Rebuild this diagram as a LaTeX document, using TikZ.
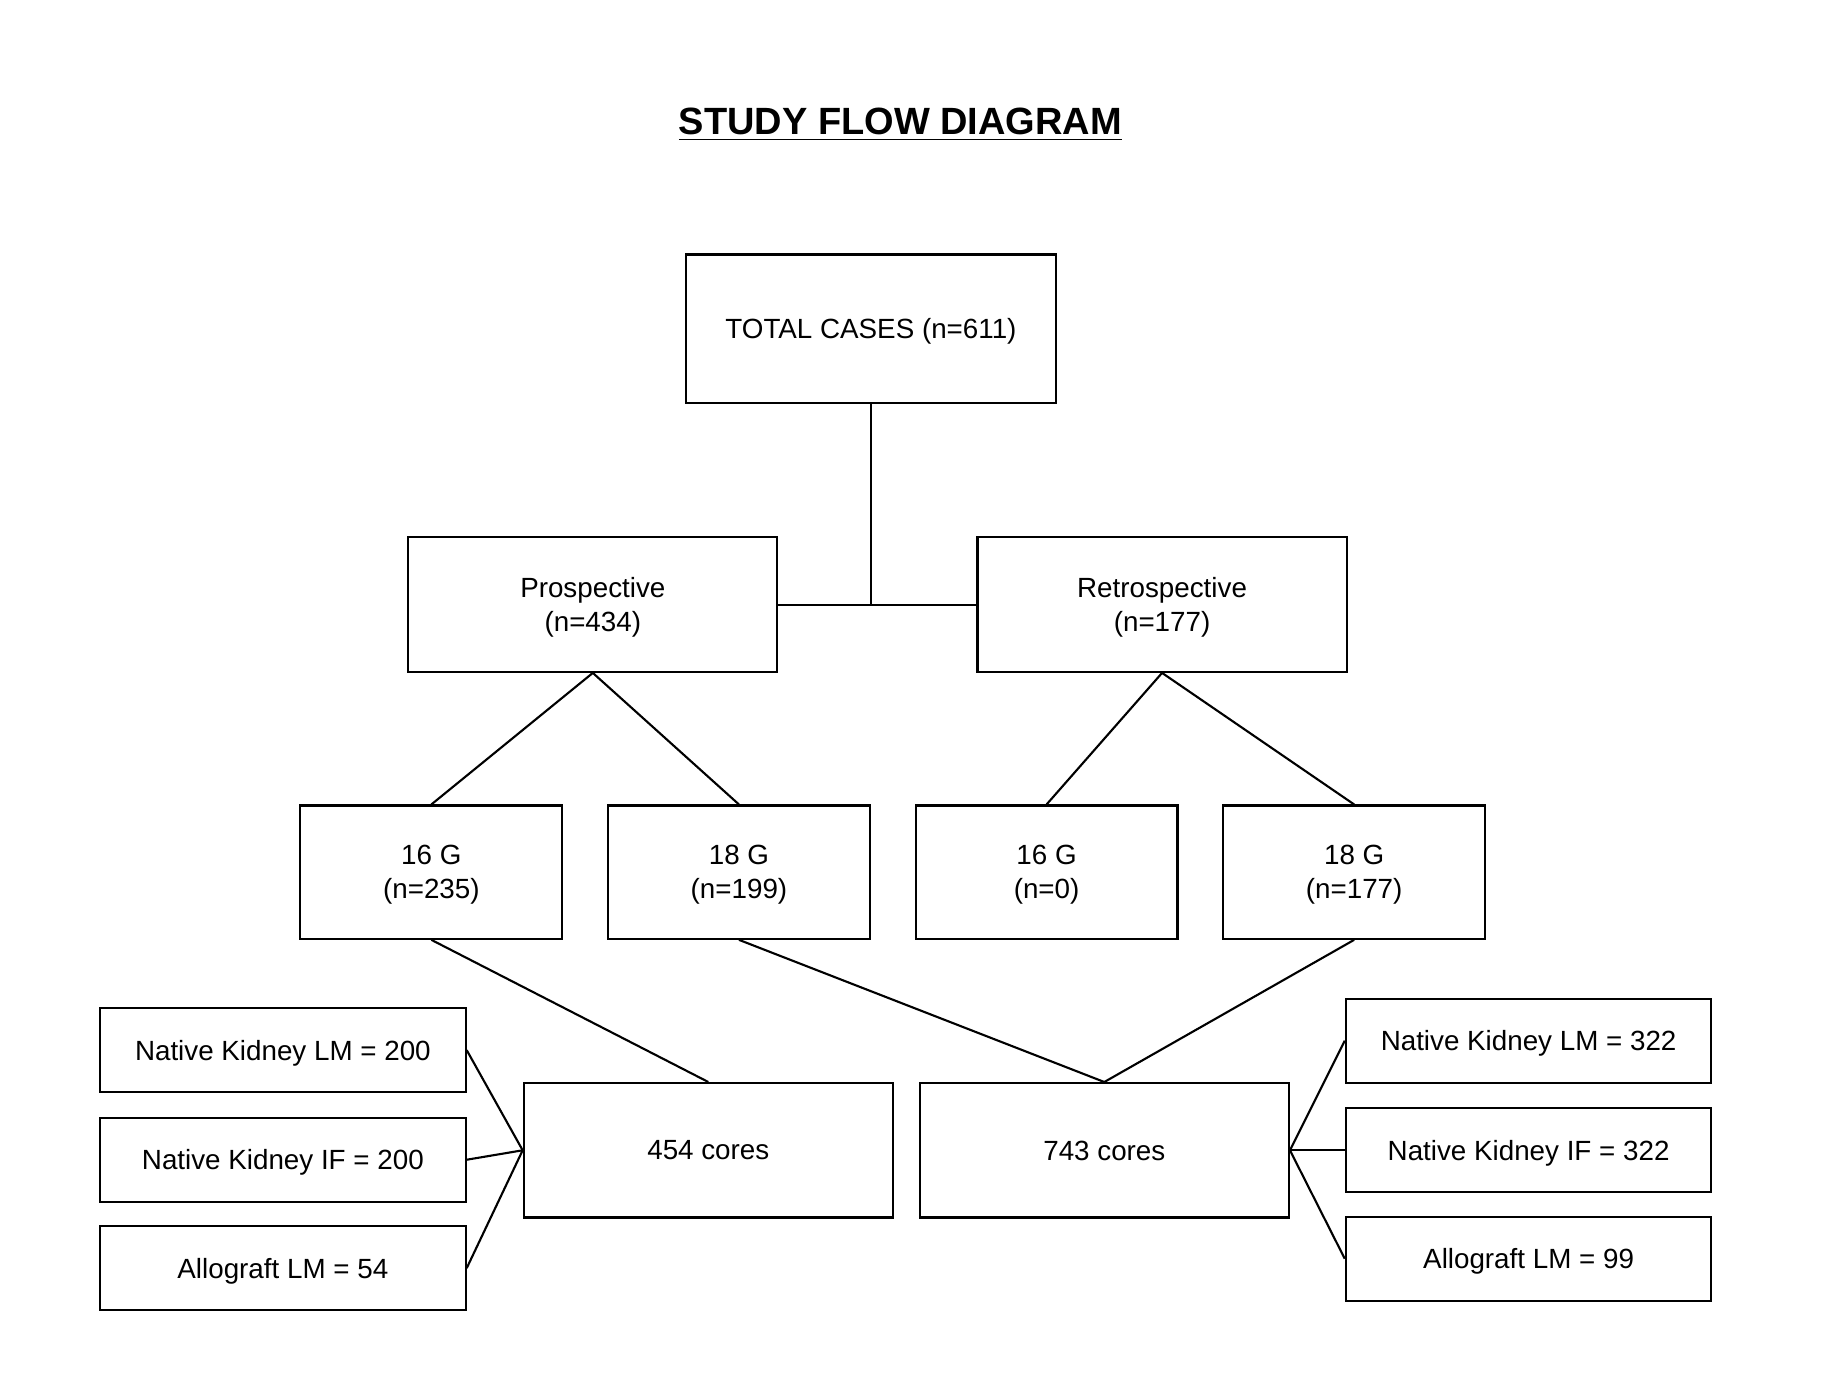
\documentclass[tikz,border=0pt]{standalone}
\usepackage{fontspec}
\setmainfont{Liberation Sans}

\begin{document}
\begin{tikzpicture}[x=0.011786cm, y=-0.011786cm, line width=0.6pt,
    box/.style={draw, align=center, inner sep=0pt, text depth=0pt,
        font=\fontsize{7.9}{9.7}\selectfont},
    widebox/.style={box, minimum width=3.69cm, minimum height=1.344cm},
    gaugebox/.style={box, minimum width=2.617cm, minimum height=1.332cm},
    sidebox/.style={box, minimum width=3.654cm, minimum height=0.837cm}]

    \useasboundingbox (0,0) rectangle (1568,1169);

    % Title
    \node[anchor=base, font=\fontsize{10.8}{13}\selectfont\bfseries] (title)
        at (764,114) {\underline{STUDY FLOW DIAGRAM}};

    % Total
    \node[widebox, minimum height=1.485cm] (total) at (739,279) {TOTAL CASES (n=611)};

    % Study arms
    \node[widebox] (pros) at (503,513) {Prospective\\(n=434)};
    \node[widebox] (retro) at (986,513) {Retrospective\\(n=177)};

    % Needle gauges
    \node[gaugebox] (pros16) at (366,740) {16 G\\(n=235)};
    \node[gaugebox] (pros18) at (627,740) {18 G\\(n=199)};
    \node[gaugebox] (retro16) at (888,740) {16 G\\(n=0)};
    \node[gaugebox] (retro18) at (1149,740) {18 G\\(n=177)};

    % Cores
    \node[widebox] (cores16) at (601,976) {454 cores};
    \node[widebox] (cores18) at (937,976) {743 cores};

    % Breakdown 16 G
    \node[sidebox] (lmA) at (240,891) {Native Kidney LM = 200};
    \node[sidebox] (ifA) at (240,984) {Native Kidney IF = 200};
    \node[sidebox] (alloA) at (240,1076) {Allograft LM = 54};

    % Breakdown 18 G
    \node[sidebox] (lmB) at (1297,883) {Native Kidney LM = 322};
    \node[sidebox] (ifB) at (1297,976) {Native Kidney IF = 322};
    \node[sidebox] (alloB) at (1297,1068) {Allograft LM = 99};

    % Connectors
    \draw (total.south) -- (total.south |- pros.east);
    \draw (pros) -- (retro);

    \draw (pros.south) -- (pros16.north);
    \draw (pros.south) -- (pros18.north);
    \draw (retro.south) -- (retro16.north);
    \draw (retro.south) -- (retro18.north);

    \draw (pros16.south) -- (cores16.north);
    \draw (pros18.south) -- (cores18.north);
    \draw (retro18.south) -- (cores18.north);

    \foreach \b in {lmA, ifA, alloA}
        \draw (cores16.west) -- (\b.east);
    \foreach \b in {lmB, ifB, alloB}
        \draw (cores18.east) -- (\b.west);

\end{tikzpicture}
\end{document}
